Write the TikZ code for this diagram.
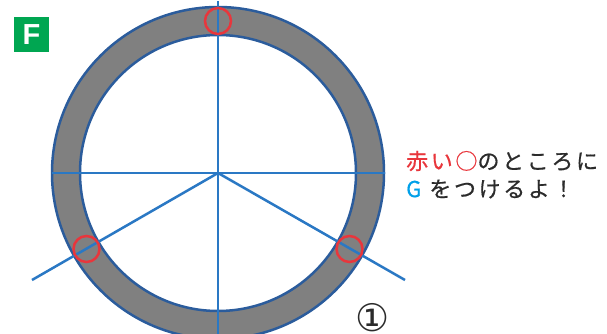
\documentclass[tikz,border=0pt]{standalone}
\usepackage{fontspec}
\newfontfamily\jp{Noto Sans CJK JP}
\newfontfamily\sym{DejaVu Sans}
\newfontfamily\fsans{Liberation Sans}
\definecolor{ringgray}{HTML}{808080}
\definecolor{ringblue}{HTML}{2B5C9C}
\definecolor{lineblue}{HTML}{2A78C4}
\definecolor{mark}{HTML}{E8363C}
\definecolor{fgreen}{HTML}{00A651}
\definecolor{gcyan}{HTML}{00A0E9}
\definecolor{txt}{HTML}{2B2B2B}
\begin{document}
\begin{tikzpicture}[x=1pt,y=-1pt,
  spoke/.style={draw=lineblue,line width=2.5pt},
  redmark/.style={draw=mark,line width=2.5pt,circle,minimum size=26pt,inner sep=0pt},
  msg/.style={anchor=west,inner sep=0pt,font=\jp\fontsize{22}{24}\selectfont\addfontfeature{LetterSpace=12,FakeBold=0.6},text=txt}]
\useasboundingbox (0,0) rectangle (607,334);
\begin{scope}
\clip (0,0) rectangle (607,334);
\coordinate (c) at (218,173);
\fill[ringgray,draw=ringblue,line width=2.5pt] (c) circle (166);
\fill[white,draw=ringblue,line width=2.5pt] (c) circle (138);
\coordinate (top) at (218,1);
\coordinate (bot) at (218,336);
\coordinate (lft) at (52,173);
\coordinate (rgt) at (385,173);
\coordinate (dl) at (32,280);
\coordinate (dr) at (405,280);
\draw[spoke] (top) -- (bot);
\draw[spoke] (lft) -- (rgt);
\draw[spoke] (c) -- (dl);
\draw[spoke] (c) -- (dr);
\node[redmark] (m1) at (218,21) {};
\node[redmark] (m2) at (86.5,249) {};
\node[redmark] (m3) at (349.5,249) {};
\node[inner sep=0pt,font=\sym\fontsize{38}{38}\selectfont,text=txt] (one) at (373,318) {①};
\end{scope}
\node[fill=fgreen,minimum size=35pt,inner sep=0pt,text=white,font=\fsans\bfseries\fontsize{29}{29}\selectfont] (F) at (31.5,34.5) {F};
\node[msg] (l1) at (406,161) {\textcolor{mark}{赤い○}のところに};
\node[msg] (l2) at (406,189) {\textcolor{gcyan}{G}\hspace{8pt}をつけるよ！};
\end{tikzpicture}
\end{document}
